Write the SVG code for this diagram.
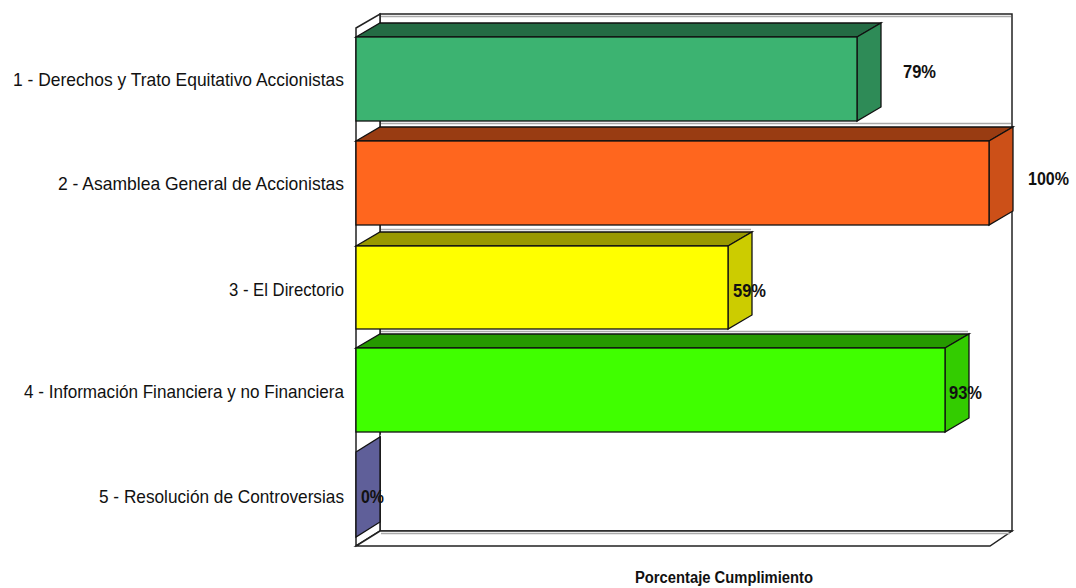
<svg xmlns="http://www.w3.org/2000/svg" width="1076" height="588" viewBox="0 0 1076 588">
<style>
.frame{fill:#fff;stroke:#222;stroke-width:1.5;stroke-linejoin:miter}
.bar{stroke:#111;stroke-width:1.3;stroke-linejoin:miter}
.sh{stroke:#aaa;stroke-width:1.5}
.lab{font-family:"Liberation Sans Narrow","Arial Narrow","Liberation Sans",Arial,sans-serif;font-size:18.5px;fill:#111;text-anchor:end}
.val{font-family:"Liberation Sans Narrow","Arial Narrow","Liberation Sans",Arial,sans-serif;font-size:18.5px;font-weight:bold;fill:#111}
.ttl{font-family:"Liberation Sans Narrow","Arial Narrow","Liberation Sans",Arial,sans-serif;font-size:16px;font-weight:bold;fill:#111}
</style>
<rect width="1076" height="588" fill="#fff"/>
<g id="frame">
<rect class="frame" x="380" y="14" width="632" height="517"/>
<line class="sh" x1="381" y1="16.5" x2="1011" y2="16.5"/>
<polygon class="frame" points="356,28 380,14 380,531 356,546"/>
<polygon class="frame" points="356,546 990,546 1012,531 380,531"/>
<line class="sh" x1="381" y1="533.5" x2="1010" y2="533.5"/>
<line class="sh" x1="381" y1="123.5" x2="1011" y2="123.5"/>
<line class="sh" x1="381" y1="229.5" x2="751" y2="229.5"/>
<line class="sh" x1="381" y1="331.5" x2="968" y2="331.5"/>
<line class="sh" x1="381" y1="435.5" x2="380" y2="435.5"/>
</g>
<g id="bar1">
<polygon class="bar" fill="#246b44" points="356,37 380,23 881,23 857,37"/>
<polygon class="bar" fill="#2e8b57" points="857,37 881,23 881,107 857,121"/>
<rect class="bar" fill="#3cb371" x="356" y="37" width="501" height="84"/>
</g>
<g id="bar2">
<polygon class="bar" fill="#993c12" points="356,141 380,127 1013,127 989,141"/>
<polygon class="bar" fill="#cc5018" points="989,141 1013,127 1013,211 989,225"/>
<rect class="bar" fill="#ff661e" x="356" y="141" width="633" height="84"/>
</g>
<g id="bar3">
<polygon class="bar" fill="#999900" points="356,246 380,232 752,232 728,246"/>
<polygon class="bar" fill="#cccc00" points="728,246 752,232 752,315 728,329"/>
<rect class="bar" fill="#ffff00" x="356" y="246" width="372" height="83"/>
</g>
<g id="bar4">
<polygon class="bar" fill="#269900" points="356,348 380,334 969,334 945,348"/>
<polygon class="bar" fill="#33cc00" points="945,348 969,334 969,418 945,432"/>
<rect class="bar" fill="#40ff00" x="356" y="348" width="589" height="84"/>
</g>
<g id="bar5">
<polygon class="bar" fill="#5f5f99" points="356,452 380,437 380,522 356,537"/>
</g>
<g id="labels">
<text class="lab" x="344" y="86" textLength="331" lengthAdjust="spacingAndGlyphs">1 - Derechos y Trato Equitativo Accionistas</text>
<text class="lab" x="344" y="190" textLength="286" lengthAdjust="spacingAndGlyphs">2 - Asamblea General de Accionistas</text>
<text class="lab" x="344" y="296" textLength="115" lengthAdjust="spacingAndGlyphs">3 - El Directorio</text>
<text class="lab" x="344" y="398" textLength="320" lengthAdjust="spacingAndGlyphs">4 - Información Financiera y no Financiera</text>
<text class="lab" x="344" y="503" textLength="245" lengthAdjust="spacingAndGlyphs">5 - Resolución de Controversias</text>
</g>
<g id="values">
<text class="val" x="903" y="78" textLength="33" lengthAdjust="spacingAndGlyphs">79%</text>
<text class="val" x="1028" y="185" textLength="41" lengthAdjust="spacingAndGlyphs">100%</text>
<text class="val" x="733" y="297" textLength="33" lengthAdjust="spacingAndGlyphs">59%</text>
<text class="val" x="949" y="399" textLength="33" lengthAdjust="spacingAndGlyphs">93%</text>
<text class="val" x="361" y="503" textLength="23" lengthAdjust="spacingAndGlyphs">0%</text>
</g>
<text class="ttl" x="635" y="583" textLength="178" lengthAdjust="spacingAndGlyphs">Porcentaje Cumplimiento</text>
</svg>
